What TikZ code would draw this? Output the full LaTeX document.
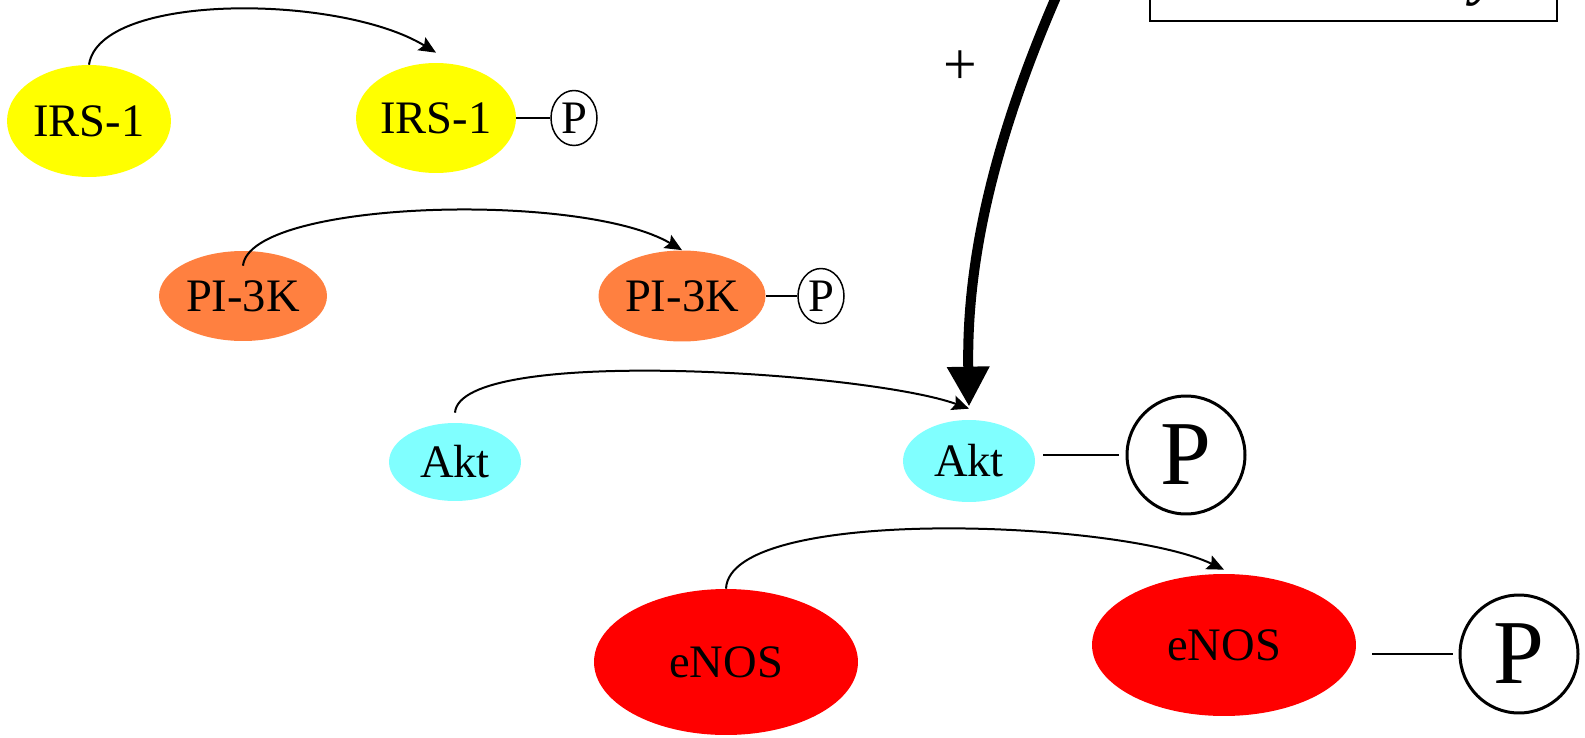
\documentclass[tikz,border=0pt]{standalone}
\usepackage{fontspec}
\setmainfont{Liberation Serif}
\usetikzlibrary{shapes.geometric,arrows.meta}
\definecolor{irsyellow}{RGB}{255,255,0}
\definecolor{piorange}{RGB}{255,128,64}
\definecolor{aktcyan}{RGB}{128,255,255}
\definecolor{enosred}{RGB}{255,0,0}

\begin{document}
\begin{tikzpicture}[x=0.02cm, y=-0.02cm,
	protein/.style={ellipse, inner sep=0pt, font=\fontsize{26.5}{30}\selectfont},
	smallp/.style={draw, ellipse, line width=0.03cm, inner sep=0pt, minimum width=0.92cm, minimum height=1.1cm, font=\fontsize{26.5}{30}\selectfont},
	bigp/.style={draw, circle, line width=0.06cm, inner sep=0pt, minimum size=2.36cm, font=\fontsize{52}{56}\selectfont},
	phos/.style={-{Stealth[length=0.34cm, width=0.3cm, inset=0.06cm]}, line width=0.04cm},
	bond/.style={line width=0.05cm}]
	\useasboundingbox (0,0) rectangle (1585,737);
	\clip (0,0) rectangle (1585,737);

	% box at the top, cut by the page
	\draw [line width=0.05cm] (1150,-60) rectangle (1557,21);
	\node [anchor=base, font=\fontsize{34}{34}\selectfont\bfseries\itshape] (boxtext) at (1486,-7) {y};

	% proteins
	\node [protein, fill=irsyellow, minimum width=3.28cm, minimum height=2.24cm] (irsA) at (89,121) {IRS-1};
	\node [protein, fill=irsyellow, minimum width=3.2cm, minimum height=2.2cm] (irsB) at (436,118) {IRS-1};
	\node [protein, fill=piorange, minimum width=3.36cm, minimum height=1.8cm] (piA) at (243,296) {PI-3K};
	\node [protein, fill=piorange, minimum width=3.34cm, minimum height=1.82cm] (piB) at (682,296) {PI-3K};
	\node [protein, fill=aktcyan, minimum width=2.64cm, minimum height=1.56cm] (aktA) at (455,462) {Akt};
	\node [protein, fill=aktcyan, minimum width=2.64cm, minimum height=1.64cm] (aktB) at (969,461) {Akt};
	\node [protein, fill=enosred, minimum width=5.28cm, minimum height=2.92cm] (enosA) at (726,662) {eNOS};
	\node [protein, fill=enosred, minimum width=5.28cm, minimum height=2.84cm] (enosB) at (1224,645) {eNOS};

	% phosphates
	\node [smallp] (pIrs) at (574,118) {P};
	\node [smallp] (pPi) at (821,296) {P};
	\node [bigp] (pAkt) at (1186,455) {P};
	\node [bigp] (pEnos) at (1519,654) {P};
	\draw [bond] (irsB.east) -- (pIrs.west);
	\draw [bond] (piB.east) -- (pPi.west);
	\draw [bond, shorten <=0.16cm, shorten >=0.14cm] (pAkt.west -| aktB.east) -- (pAkt.west);
	\draw [bond, shorten <=0.32cm, shorten >=0.12cm] (pEnos.west -| enosB.east) -- (pEnos.west);

	% phosphorylation steps
	\draw [phos] (irsA.north) .. controls (100,-8) and (340,-6) .. ([yshift=0.2cm]irsB.north);
	\draw [phos] ([yshift=-0.3cm]piA.north) .. controls (250,200) and (582,191) .. (piB.north);
	\draw [phos] ([yshift=0.2cm]aktA.north) .. controls (460,345) and (868,372) .. ([yshift=0.22cm]aktB.north);
	\draw [phos] (enosA.north) .. controls (730,505) and (1120,520) .. ([yshift=0.08cm]enosB.north);

	% stimulus from above
	\coordinate (stim) at (1068,-30);
	\draw [line width=0.2cm, -{Triangle[length=0.8cm, width=0.8cm]}] (stim) .. controls (1000,120) and (966,250) .. ([yshift=0.26cm]aktB.north);
	\node [font=\fontsize{34}{34}\selectfont] (plus) at (960,68) {+};

\end{tikzpicture}
\end{document}
